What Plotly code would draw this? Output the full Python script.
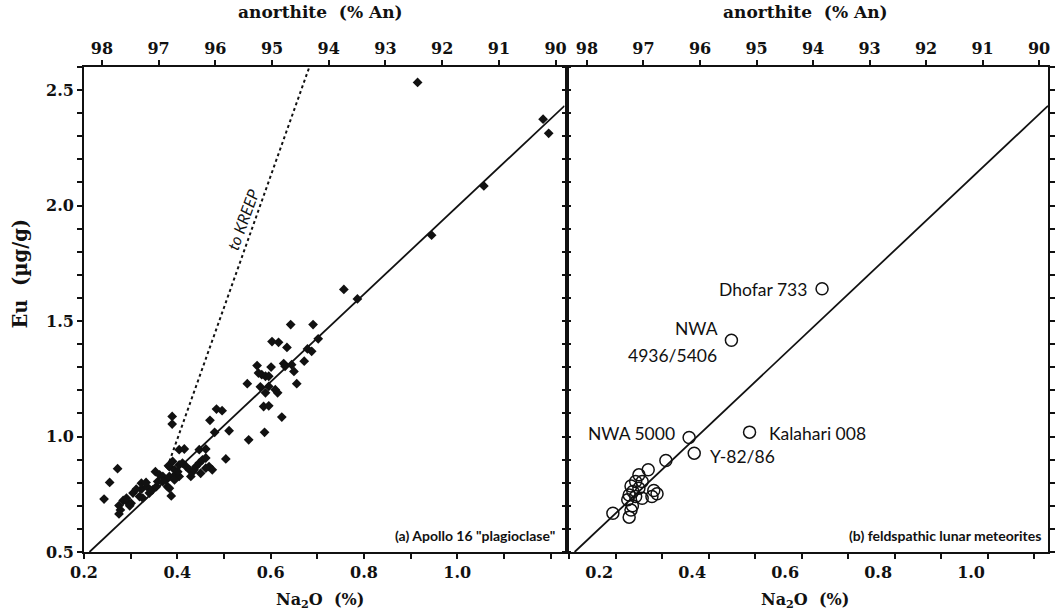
import plotly.graph_objects as go

# ---- (a) Apollo 16 "plagioclase" ----
na2o_a = [0.915, 1.184, 1.196, 1.057, 0.945, 0.757, 0.786, 0.643, 0.691, 0.617, 0.635, 0.702, 0.679, 0.688,
          0.603, 0.672, 0.571, 0.601, 0.628, 0.631, 0.645, 0.650, 0.574, 0.581, 0.589, 0.596, 0.550, 0.578,
          0.596, 0.656, 0.589, 0.610, 0.615, 0.585, 0.596, 0.624, 0.484, 0.496, 0.470, 0.511, 0.480, 0.587,
          0.389, 0.389, 0.553,
          0.272, 0.255, 0.243, 0.278, 0.275, 0.284, 0.294, 0.301, 0.305, 0.319, 0.326, 0.323, 0.335, 0.340,
          0.347, 0.355, 0.358, 0.353, 0.362, 0.369, 0.376, 0.379, 0.383, 0.387, 0.383, 0.394, 0.397, 0.404,
          0.404, 0.411, 0.419, 0.426, 0.433, 0.404, 0.415, 0.440, 0.447, 0.454, 0.461, 0.468, 0.475, 0.447,
          0.461, 0.504,
          0.369, 0.383, 0.394, 0.401, 0.429, 0.436, 0.450, 0.461, 0.323, 0.333, 0.312, 0.291, 0.275, 0.298,
          0.381, 0.390]
eu_a = [2.533, 2.374, 2.313, 2.085, 1.872, 1.637, 1.596, 1.485, 1.485, 1.408, 1.386, 1.423, 1.379, 1.369,
        1.411, 1.326, 1.307, 1.301, 1.316, 1.304, 1.311, 1.282, 1.275, 1.268, 1.261, 1.261, 1.229, 1.215,
        1.217, 1.229, 1.189, 1.203, 1.189, 1.130, 1.133, 1.084, 1.119, 1.112, 1.070, 1.025, 1.018, 1.018,
        1.087, 1.054, 0.986,
        0.861, 0.801, 0.729, 0.682, 0.665, 0.723, 0.714, 0.711, 0.755, 0.740, 0.733, 0.772, 0.783, 0.755,
        0.769, 0.783, 0.805, 0.848, 0.834, 0.827, 0.812, 0.783, 0.776, 0.743, 0.870, 0.856, 0.834, 0.827,
        0.877, 0.885, 0.870, 0.856, 0.848, 0.943, 0.946, 0.870, 0.885, 0.899, 0.907, 0.870, 0.856, 0.943,
        0.946, 0.903,
        0.805, 0.827, 0.812, 0.848, 0.827, 0.856, 0.841, 0.863, 0.798, 0.801, 0.772, 0.733, 0.701, 0.700,
        0.873, 0.892]

# ---- (b) feldspathic lunar meteorites ----
na2o_b = [0.744, 0.549, 0.458, 0.588, 0.469, 0.408, 0.370, 0.350, 0.343, 0.333, 0.357, 0.337, 0.329, 0.343,
          0.357, 0.382, 0.389, 0.378, 0.336, 0.333, 0.294, 0.329, 0.326, 0.350]
eu_b = [1.640, 1.417, 0.996, 1.019, 0.928, 0.896, 0.856, 0.834, 0.805, 0.786, 0.805, 0.762, 0.747, 0.740,
        0.733, 0.766, 0.752, 0.740, 0.700, 0.682, 0.668, 0.651, 0.726, 0.776]

# regression line and mixing line toward KREEP
fit_na2o = [0.2117, 1.23]
fit_eu = [0.500, 2.432]
kreep_na2o = [0.383, 0.683]
kreep_eu = [0.892, 2.600]

# axis ticks
na2o_ticks = [0.2, 0.4, 0.6, 0.8, 1.0]
eu_ticks = [0.5, 1.0, 1.5, 2.0, 2.5]
an_ticks = [98, 97, 96, 95, 94, 93, 92, 91, 90]

X_RANGE = [0.2, 1.23]
Y_RANGE = [0.5, 2.6]
AN_RANGE = [98.315, 89.842]

SERIF = "DejaVu Serif"
SANS = "Lato"
BLACK = "#111111"

fig = go.Figure()

fig.add_trace(go.Scatter(x=kreep_na2o, y=kreep_eu, mode="lines", xaxis="x", yaxis="y",
                         line=dict(color=BLACK, width=2, dash="dot"), showlegend=False, hoverinfo="skip"))
fig.add_trace(go.Scatter(x=fit_na2o, y=fit_eu, mode="lines", xaxis="x", yaxis="y",
                         line=dict(color=BLACK, width=1.8), showlegend=False, hoverinfo="skip"))
fig.add_trace(go.Scatter(x=na2o_a, y=eu_a, mode="markers", xaxis="x", yaxis="y",
                         marker=dict(symbol="diamond", size=7.5, color=BLACK), showlegend=False))

fig.add_trace(go.Scatter(x=fit_na2o, y=fit_eu, mode="lines", xaxis="x2", yaxis="y2",
                         line=dict(color=BLACK, width=1.8), showlegend=False, hoverinfo="skip"))
fig.add_trace(go.Scatter(x=na2o_b, y=eu_b, mode="markers", xaxis="x2", yaxis="y2",
                         marker=dict(symbol="circle-open", size=12, color=BLACK, line=dict(width=1.5, color=BLACK)),
                         showlegend=False))


def fine_ticks(lo, hi, step, labelled, fmt):
    vals, texts = [], []
    n = int(round((hi - lo) / step))
    for i in range(n + 1):
        v = round(lo + i * step, 3)
        vals.append(v)
        texts.append(fmt.format(v) if any(abs(v - l) < 1e-6 for l in labelled) else "")
    return vals, texts


xv, xt = fine_ticks(0.2, 1.2, 0.1, na2o_ticks, "{:.1f}")
yv, yt = fine_ticks(0.5, 2.6, 0.1, eu_ticks, "{:.1f}")

tickfont = dict(family=SERIF, size=16, color=BLACK, weight="bold")
common = dict(showline=True, linecolor=BLACK, linewidth=1.8, ticks="outside", ticklen=5, tickwidth=1.5,
              tickcolor=BLACK, showgrid=False, zeroline=False, tickfont=tickfont)

L_DOM = [0.0, 0.4985]
R_DOM = [0.5033, 1.0]

fig.update_layout(
    width=1058, height=614,
    margin=dict(l=84, r=3, t=67, b=62),
    paper_bgcolor="white", plot_bgcolor="white",
    xaxis=dict(domain=L_DOM, range=X_RANGE, anchor="y", tickvals=xv, ticktext=xt, **common),
    xaxis2=dict(domain=R_DOM, range=X_RANGE, anchor="y2", tickvals=xv, ticktext=xt, ticklabelshift=30,
                **common),
    xaxis3=dict(overlaying="x", side="top", anchor="y", range=AN_RANGE, tickvals=an_ticks,
                ticktext=[str(a) for a in an_ticks], **common),
    xaxis4=dict(overlaying="x2", side="top", anchor="y2", range=AN_RANGE, tickvals=an_ticks,
                ticktext=[str(a) for a in an_ticks], **common),
    yaxis=dict(domain=[0, 1], range=Y_RANGE, anchor="x", tickvals=yv, ticktext=yt, mirror="ticks", **common),
    yaxis2=dict(domain=[0, 1], range=Y_RANGE, anchor="x2", tickvals=yv, ticktext=[""] * len(yv),
                mirror="ticks", **common),
)

# dummy traces so the top axes are drawn
fig.add_trace(go.Scatter(x=[95], y=[None], xaxis="x3", yaxis="y", showlegend=False, hoverinfo="skip"))
fig.add_trace(go.Scatter(x=[95], y=[None], xaxis="x4", yaxis="y2", showlegend=False, hoverinfo="skip"))

title_font = dict(family=SERIF, size=17, color=BLACK, weight="bold")
ann = []
for cx in (0.245, 0.748):
    ann.append(dict(text="anorthite  (% An)", xref="paper", yref="paper", x=cx, y=1.113,
                    showarrow=False, font=title_font, xanchor="center", yanchor="middle"))
    ann.append(dict(text="Na<sub>2</sub>O  (%)", xref="paper", yref="paper", x=cx, y=-0.099,
                    showarrow=False, font=dict(family=SERIF, size=16, color=BLACK, weight="bold"),
                    xanchor="center", yanchor="middle"))
ann.append(dict(text="Eu  (µg/g)", xref="paper", yref="paper", x=-0.066, y=0.575, textangle=-90,
                showarrow=False, font=dict(family=SERIF, size=19.5, color=BLACK, weight="bold"),
                xanchor="center", yanchor="middle"))

panel_font = dict(family=SANS, size=14, color=BLACK, weight="bold")
ann.append(dict(text='(a) Apollo 16 "plagioclase"', xref="paper", yref="paper", x=0.491, y=0.035,
                showarrow=False, font=panel_font, xanchor="right", yanchor="middle"))
ann.append(dict(text="(b) feldspathic lunar meteorites", xref="paper", yref="paper", x=0.995, y=0.035,
                showarrow=False, font=panel_font, xanchor="right", yanchor="middle"))

ann.append(dict(text="<i>to KREEP</i>", xref="x", yref="y", x=0.540, y=1.94, textangle=-70,
                showarrow=False, font=dict(family=SANS, size=16, color=BLACK)))

label_font = dict(family=SANS, size=17.5, color=BLACK)
labels = [
    ("Dhofar 733", 0.7155, 1.637, "right"),
    ("NWA", 0.524, 1.466, "right"),
    ("4936/5406", 0.522, 1.350, "right"),
    ("NWA 5000", 0.432, 1.015, "right"),
    ("Kalahari 008", 0.626, 1.015, "left"),
    ("Y-82/86", 0.498, 0.913, "left"),
]
for txt, lx, ly, anc in labels:
    ann.append(dict(text=txt, xref="x2", yref="y2", x=lx, y=ly, showarrow=False, font=label_font,
                    xanchor=anc, yanchor="middle"))

fig.update_layout(annotations=ann)

fig.write_html("out.html", config={"displayModeBar": False},
               post_script="document.body.style.margin='0px';document.body.style.overflow='hidden';")
